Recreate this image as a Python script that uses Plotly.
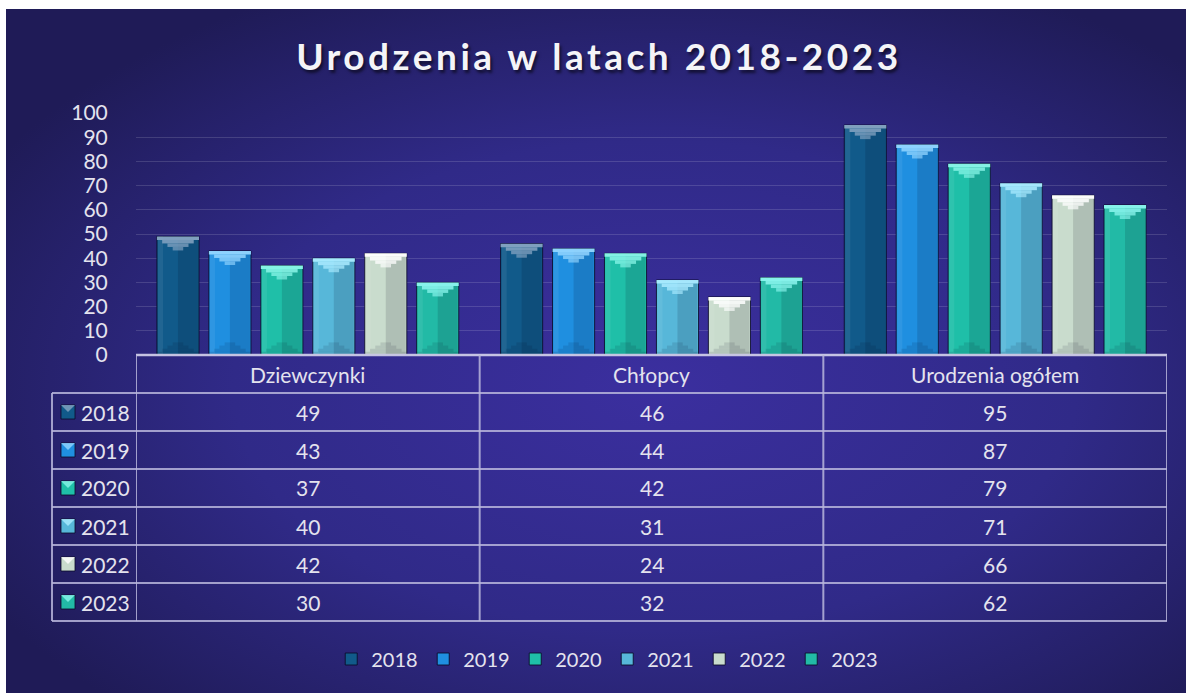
import base64
import plotly.graph_objects as go

# ---------------- data ----------------
categories = ["Dziewczynki", "Chłopcy", "Urodzenia ogółem"]
years = ["2018", "2019", "2020", "2021", "2022", "2023"]
values = {
    "2018": [49, 46, 95],
    "2019": [43, 44, 87],
    "2020": [37, 42, 79],
    "2021": [40, 31, 71],
    "2022": [42, 24, 66],
    "2023": [30, 32, 62],
}
y_ticks = [0, 10, 20, 30, 40, 50, 60, 70, 80, 90, 100]
title_text = "Urodzenia w latach 2018-2023"

# ---------------- style ----------------
W, H = 1186, 693
FONT = "Lato"
TXT = "#e4e3ee"
main_colors = ["#115a8a", "#1f8fe0", "#1fbfa8", "#57b7d9", "#c9dccd", "#22baa6"]
cap_colors = ["#86a4c2", "#94d6ff", "#8af5e8", "#aaebff", "#ffffff", "#8cf6ee"]
line_col = "rgba(185,182,220,0.85)"

def px(x):
    return x / W

def py(y):
    return 1 - y / H

plot_l, plot_r, plot_t, plot_b = 136, 1167, 113, 355

bargap = 0.093
n = len(years)
slot = (1 - bargap) / n
bw = slot * 0.81

# background gradient image
svg = f"""<svg xmlns='http://www.w3.org/2000/svg' width='{W}' height='{H}'>
<defs><radialGradient id='g' cx='0.55' cy='0.55' r='0.65'>
<stop offset='0' stop-color='#3b2f9f'/><stop offset='0.55' stop-color='#302a88'/>
<stop offset='1' stop-color='#1f1b57'/></radialGradient></defs>
<rect x='0' y='0' width='{W}' height='{H}' fill='url(#g)'/></svg>"""
bg_src = "data:image/svg+xml;base64," + base64.b64encode(svg.encode()).decode()

fig = go.Figure()

steps = [1.0, 0.75, 0.5, 0.25]
for i, yr in enumerate(years):
    vals = values[yr]
    off = -0.5 * (1 - bargap) + i * slot + (slot - bw) / 2
    # main bar
    fig.add_trace(go.Bar(
        x=categories, y=vals, name=yr, offset=off, width=bw,
        marker=dict(color=main_colors[i], line=dict(color="rgba(10,10,40,0.85)", width=1)),
        legendgroup=yr, showlegend=True,
    ))
    # left edge highlight
    fig.add_trace(go.Bar(
        x=categories, y=vals, offset=off + 0.003, width=bw * 0.12,
        marker=dict(color="rgba(255,255,255,0.07)", line=dict(width=0)),
        legendgroup=yr, showlegend=False, hoverinfo="skip",
    ))
    # right-half shading
    fig.add_trace(go.Bar(
        x=categories, y=vals, offset=off + bw / 2, width=bw / 2 - 0.003,
        marker=dict(color="rgba(0,0,20,0.13)", line=dict(width=0)),
        legendgroup=yr, showlegend=False, hoverinfo="skip",
    ))
    # bottom bevel (darker stepped triangle)
    for k, f in enumerate(steps):
        fig.add_trace(go.Bar(
            x=categories, y=[1.3] * 3, base=[1.3 * k] * 3,
            offset=off + bw * (1 - f) / 2, width=bw * f,
            marker=dict(color="rgba(0,0,30,0.10)", line=dict(width=0)),
            legendgroup=yr, showlegend=False, hoverinfo="skip",
        ))
    # top bevel (light stepped triangle)
    for k, f in enumerate(steps):
        fig.add_trace(go.Bar(
            x=categories, y=[1.45] * 3, base=[v - 1.45 * (k + 1) for v in vals],
            offset=off + bw * (1 - f) / 2, width=bw * f,
            marker=dict(color=cap_colors[i], opacity=0.95 - 0.1 * k, line=dict(width=0)),
            legendgroup=yr, showlegend=False, hoverinfo="skip",
        ))

shapes = []
annotations = []

# table geometry
row_h = 38
header_top = plot_b
rows_top = header_top + row_h
table_bottom = rows_top + row_h * n
left_col = 52

shapes.append(dict(type="line", xref="paper", yref="paper", x0=px(plot_l), x1=px(plot_r),
                   y0=py(header_top), y1=py(header_top), line=dict(color="rgba(205,203,232,0.95)", width=2.5)))
for r in range(n + 1):
    yy = rows_top + r * row_h
    shapes.append(dict(type="line", xref="paper", yref="paper", x0=px(left_col), x1=px(plot_r),
                       y0=py(yy), y1=py(yy), line=dict(color=line_col, width=2)))
for b in [-0.5, 0.5, 1.5, 2.5]:
    shapes.append(dict(type="line", xref="x", yref="paper", x0=b, x1=b,
                       y0=py(header_top), y1=py(table_bottom), line=dict(color=line_col, width=2)))
shapes.append(dict(type="line", xref="paper", yref="paper", x0=px(left_col), x1=px(left_col),
                   y0=py(rows_top), y1=py(table_bottom), line=dict(color=line_col, width=2)))

FS = 21
for c, cat in enumerate(categories):
    annotations.append(dict(text=cat, xref="x", yref="paper", x=c, y=py(header_top + row_h / 2),
                            yanchor="middle", showarrow=False,
                            font=dict(family=FONT, size=FS, color=TXT)))
for i, yr in enumerate(years):
    cy = rows_top + row_h * i + row_h / 2
    annotations.append(dict(text=yr, xref="paper", yref="paper", x=px(79), y=py(cy),
                            xanchor="left", yanchor="middle", showarrow=False,
                            font=dict(family=FONT, size=FS, color=TXT)))
    shapes.append(dict(type="rect", xref="paper", yref="paper", x0=px(61), x1=px(75),
                       y0=py(cy + 7), y1=py(cy - 7), fillcolor=main_colors[i],
                       line=dict(color="rgba(10,10,40,0.8)", width=1)))
    shapes.append(dict(type="path", xref="paper", yref="paper",
                       path=f"M {px(61)} {py(cy-7)} L {px(75)} {py(cy-7)} L {px(68)} {py(cy)} Z",
                       fillcolor=cap_colors[i], opacity=0.8, line=dict(width=0)))
    for c in range(len(categories)):
        annotations.append(dict(text=str(values[yr][c]), xref="x", yref="paper", x=c, y=py(cy),
                                yanchor="middle", showarrow=False,
                                font=dict(family=FONT, size=FS, color=TXT)))

fig.update_layout(
    width=W, height=H,
    paper_bgcolor="white",
    plot_bgcolor="rgba(0,0,0,0)",
    margin=dict(l=0, r=0, t=0, b=0, pad=0, autoexpand=False),
    barmode="overlay",
    images=[dict(source=bg_src, xref="paper", yref="paper", x=px(6), y=py(9),
                 sizex=px(W - 6), sizey=py(9),
                 sizing="stretch", layer="below", xanchor="left", yanchor="top")],
    title=dict(text=f"<b><span style='letter-spacing:3.5px'>{title_text}</span></b>",
               x=0.505, xanchor="center", y=py(57), yanchor="middle",
               font=dict(family=FONT, size=37, color="#f4f4f8",
                         shadow="2px 3px 3px rgba(0,0,0,0.55)")),
    xaxis=dict(domain=[px(plot_l), px(plot_r)], range=[-0.5, 2.5], showticklabels=False,
               showgrid=False, zeroline=False, showline=False, fixedrange=True, automargin=False),
    yaxis=dict(domain=[py(plot_b), py(plot_t)], range=[0, 100], tickvals=y_ticks,
               ticktext=[str(t) for t in y_ticks], automargin=False,
               showgrid=True, gridcolor="rgba(255,255,255,0.14)", gridwidth=1.2,
               zeroline=False, showline=False, ticks="outside", ticklen=23,
               tickcolor="rgba(0,0,0,0)",
               tickfont=dict(family=FONT, size=FS, color=TXT)),
    legend=dict(orientation="h", x=0.512, xanchor="center", y=py(659), yanchor="middle",
                font=dict(family=FONT, size=20, color=TXT), bgcolor="rgba(0,0,0,0)",
                itemwidth=30, entrywidth=47, entrywidthmode="pixels", traceorder="normal"),
    shapes=shapes,
    annotations=annotations,
    showlegend=True,
)

fig.write_html("out.html",
               config={"displayModeBar": False},
               post_script="document.body.style.margin='0';document.body.style.padding='0';"
                           "document.body.style.overflow='hidden';")
